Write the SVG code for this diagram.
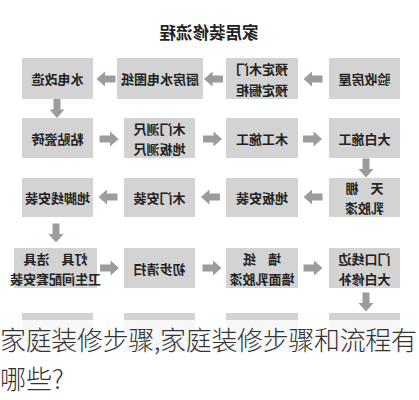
<svg xmlns="http://www.w3.org/2000/svg" xmlns:xlink="http://www.w3.org/1999/xlink" width="419" height="400" viewBox="0 0 419 400">
<style>
.box{fill:#d3d3d3}
.t{font-family:"Noto Sans CJK SC","Noto Sans",sans-serif;font-weight:bold;font-size:13px;fill:#222;text-anchor:middle;dominant-baseline:central}
.title{font-family:"Noto Sans CJK SC","Noto Sans",sans-serif;font-weight:bold;font-size:16.5px;fill:#222;text-anchor:middle;dominant-baseline:central}
.arr{fill:#9c9c9c}
.cap{font-family:"Noto Sans CJK SC","Noto Sans",sans-serif;font-weight:300;font-size:26px;fill:#333}
</style>
<defs>
<path id="ar" class="arr" d="M-9.5,-3.5 H1 V-7.5 L9.5,0 L1,7.5 V3.5 H-9.5 Z"/>
</defs>
<rect width="419" height="400" fill="#fff"/>
<g id="title"><text class="title" x="209" y="32" transform="matrix(-1 0 0 1 418 0)">家居装修流程</text></g>

<g id="n1"><rect class="box" x="329" y="58" width="71" height="41"/><text class="t" x="364.5" y="78.5" transform="matrix(-1 0 0 1 729 0)">验收房屋</text></g>
<g id="n2"><rect class="box" x="226" y="58" width="72" height="41"/><text class="t" x="262" y="68.5" transform="matrix(-1 0 0 1 524 0)">预定木门</text><text class="t" x="262" y="89" transform="matrix(-1 0 0 1 524 0)">预定橱柜</text></g>
<g id="n3"><rect class="box" x="117" y="58" width="86" height="41"/><text class="t" x="160" y="78.5" transform="matrix(-1 0 0 1 320 0)">厨房水电图纸</text></g>
<g id="n4"><rect class="box" x="22" y="58" width="71" height="41"/><text class="t" x="57.5" y="78.5" transform="matrix(-1 0 0 1 115 0)">水电改造</text></g>

<g id="n5"><rect class="box" x="22" y="118" width="71" height="40"/><text class="t" x="57.5" y="138" transform="matrix(-1 0 0 1 115 0)">粘贴瓷砖</text></g>
<g id="n6"><rect class="box" x="124" y="118" width="71" height="40"/><text class="t" x="159.5" y="128" transform="matrix(-1 0 0 1 319 0)">木门测尺</text><text class="t" x="159.5" y="148.5" transform="matrix(-1 0 0 1 319 0)">地板测尺</text></g>
<g id="n7"><rect class="box" x="226" y="118" width="72" height="40"/><text class="t" x="262" y="138" transform="matrix(-1 0 0 1 524 0)">木工施工</text></g>
<g id="n8"><rect class="box" x="329" y="118" width="71" height="40"/><text class="t" x="364.5" y="138" transform="matrix(-1 0 0 1 729 0)">大白施工</text></g>

<g id="n9"><rect class="box" x="329" y="178" width="71" height="39"/><text class="t" x="364.5" y="187.5" transform="matrix(-1 0 0 1 729 0)" xml:space="preserve">天    棚</text><text class="t" x="364.5" y="207.5" transform="matrix(-1 0 0 1 729 0)">乳胶漆</text></g>
<g id="n10"><rect class="box" x="226" y="178" width="72" height="39"/><text class="t" x="262" y="197.5" transform="matrix(-1 0 0 1 524 0)">地板安装</text></g>
<g id="n11"><rect class="box" x="124" y="178" width="71" height="39"/><text class="t" x="159.5" y="197.5" transform="matrix(-1 0 0 1 319 0)">木门安装</text></g>
<g id="n12"><rect class="box" x="22" y="178" width="71" height="39"/><text class="t" x="57.5" y="197.5" transform="matrix(-1 0 0 1 115 0)">地脚线安装</text></g>

<g id="n13"><rect class="box" x="14" y="248" width="83" height="40"/><text class="t" x="55.5" y="258" transform="matrix(-1 0 0 1 111 0)" xml:space="preserve">灯具    洁具</text><text class="t" x="55.5" y="278.5" transform="matrix(-1 0 0 1 111 0)">卫生间配套安装</text></g>
<g id="n14"><rect class="box" x="124" y="248" width="71" height="40"/><text class="t" x="159.5" y="268" transform="matrix(-1 0 0 1 319 0)">初步清扫</text></g>
<g id="n15"><rect class="box" x="226" y="248" width="72" height="40"/><text class="t" x="262" y="258" transform="matrix(-1 0 0 1 524 0)" xml:space="preserve">墙    纸</text><text class="t" x="262" y="278.5" transform="matrix(-1 0 0 1 524 0)">墙面乳胶漆</text></g>
<g id="n16"><rect class="box" x="329" y="248" width="71" height="40"/><text class="t" x="364.5" y="258" transform="matrix(-1 0 0 1 729 0)">门口线边</text><text class="t" x="364.5" y="278.5" transform="matrix(-1 0 0 1 729 0)">大白修补</text></g>

<g id="n17"><rect class="box" x="329" y="313" width="71" height="39"/></g>
<g id="n18"><rect class="box" x="226" y="313" width="72" height="39"/></g>
<g id="n19"><rect class="box" x="124" y="313" width="71" height="39"/></g>
<g id="n20"><rect class="box" x="22" y="313" width="71" height="39"/></g>

<g id="connectors">
<use xlink:href="#ar" transform="translate(313,79) rotate(180)"/>
<use xlink:href="#ar" transform="translate(213.5,79) rotate(180)"/>
<use xlink:href="#ar" transform="translate(106,79) rotate(180)"/>
<use xlink:href="#ar" transform="translate(57,108.5) rotate(90)"/>
<use xlink:href="#ar" transform="translate(109,139)"/>
<use xlink:href="#ar" transform="translate(212.5,139)"/>
<use xlink:href="#ar" transform="translate(312.5,139)"/>
<use xlink:href="#ar" transform="translate(366,168) rotate(90)"/>
<use xlink:href="#ar" transform="translate(313,197) rotate(180)"/>
<use xlink:href="#ar" transform="translate(210.5,197) rotate(180)"/>
<use xlink:href="#ar" transform="translate(108,197) rotate(180)"/>
<use xlink:href="#ar" transform="translate(56,233) rotate(90)"/>
<use xlink:href="#ar" transform="translate(109.5,268)"/>
<use xlink:href="#ar" transform="translate(212,268)"/>
<use xlink:href="#ar" transform="translate(313,268)"/>
<use xlink:href="#ar" transform="translate(366,302) rotate(90)"/>
</g>

<rect x="0" y="320" width="419" height="80" fill="#fff" fill-opacity="0.82"/>
<g id="caption">
<text class="cap" x="0" y="350" textLength="417" lengthAdjust="spacing">家庭装修步骤,家庭装修步骤和流程有</text>
<text class="cap" x="0" y="389">哪些?</text>
</g>
</svg>
